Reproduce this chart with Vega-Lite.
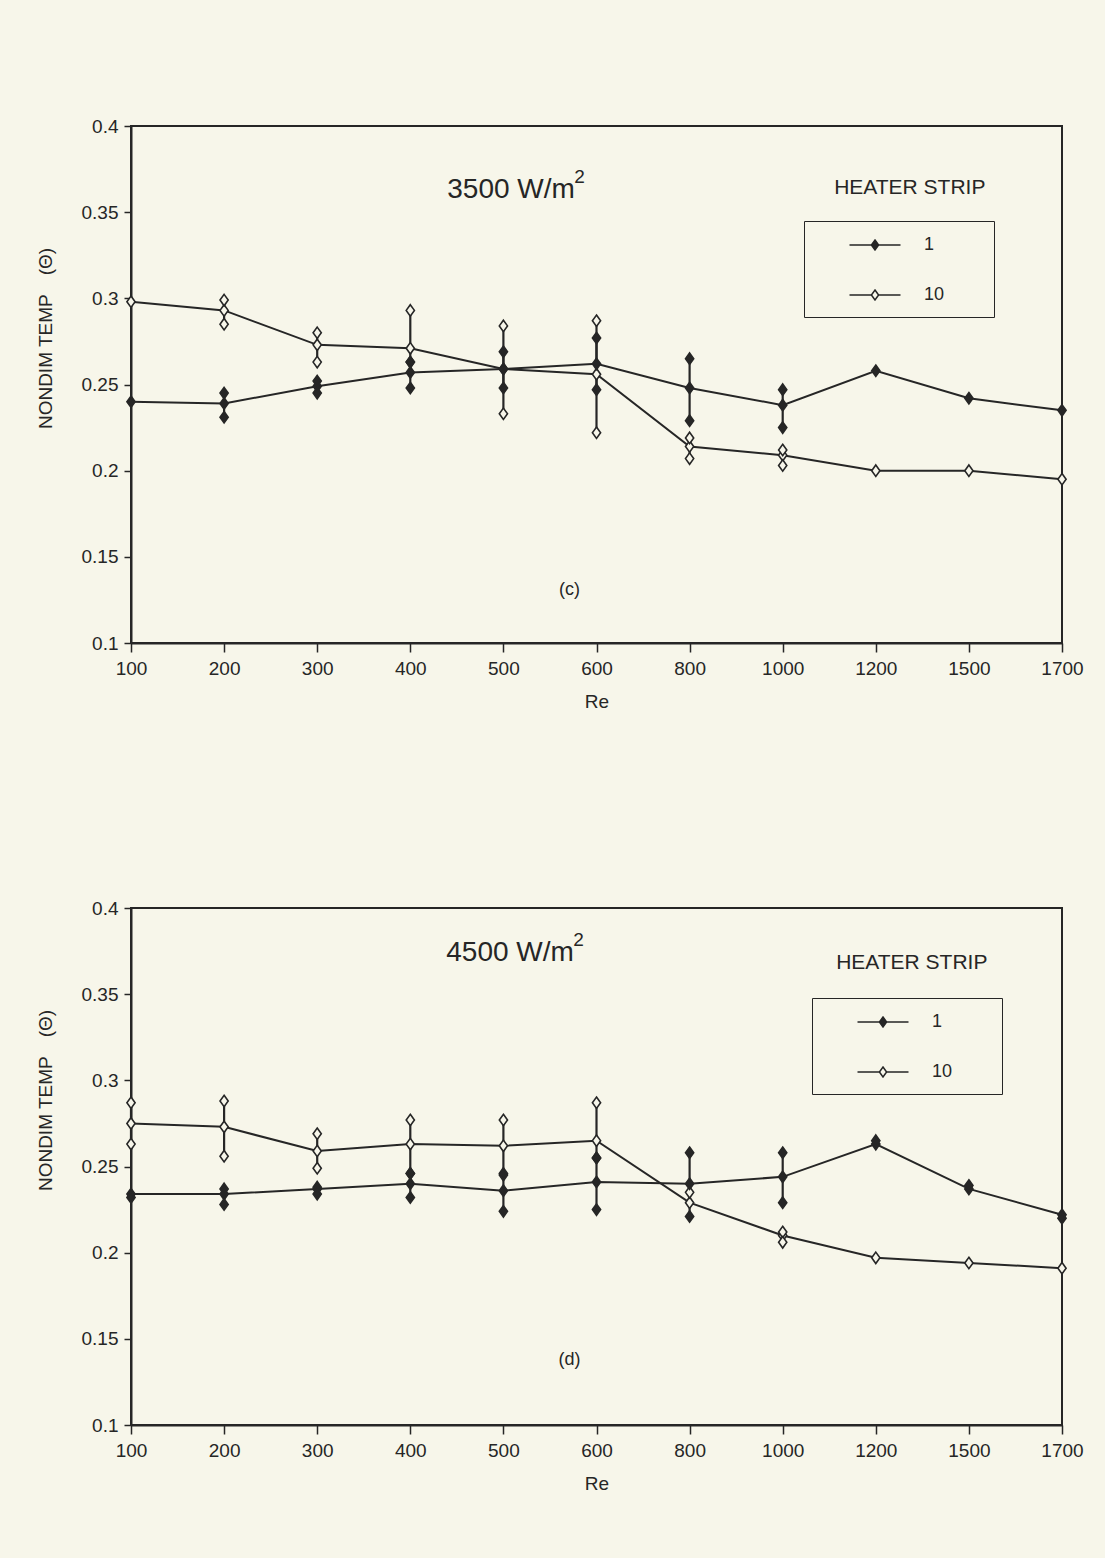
{
  "$schema": "https://vega.github.io/schema/vega-lite/v6.json",
  "background": "#f7f6ea",
  "padding": {"left": 35, "top": 116, "right": 20, "bottom": 64},
  "spacing": 186,
  "datasets": {
    "obs": [
      {"p":"c","Re":100,"strip":"10","kind":"mean","theta":0.298},
      {"p":"c","Re":200,"strip":"10","kind":"mean","theta":0.293},
      {"p":"c","Re":200,"strip":"10","kind":"run","theta":0.299},
      {"p":"c","Re":200,"strip":"10","kind":"run","theta":0.285},
      {"p":"c","Re":300,"strip":"10","kind":"mean","theta":0.273},
      {"p":"c","Re":300,"strip":"10","kind":"run","theta":0.280},
      {"p":"c","Re":300,"strip":"10","kind":"run","theta":0.263},
      {"p":"c","Re":400,"strip":"10","kind":"mean","theta":0.271},
      {"p":"c","Re":400,"strip":"10","kind":"run","theta":0.293},
      {"p":"c","Re":400,"strip":"10","kind":"run","theta":0.263},
      {"p":"c","Re":500,"strip":"10","kind":"mean","theta":0.259},
      {"p":"c","Re":500,"strip":"10","kind":"run","theta":0.284},
      {"p":"c","Re":500,"strip":"10","kind":"run","theta":0.233},
      {"p":"c","Re":600,"strip":"10","kind":"mean","theta":0.256},
      {"p":"c","Re":600,"strip":"10","kind":"run","theta":0.287},
      {"p":"c","Re":600,"strip":"10","kind":"run","theta":0.222},
      {"p":"c","Re":800,"strip":"10","kind":"mean","theta":0.214},
      {"p":"c","Re":800,"strip":"10","kind":"run","theta":0.219},
      {"p":"c","Re":800,"strip":"10","kind":"run","theta":0.207},
      {"p":"c","Re":1000,"strip":"10","kind":"mean","theta":0.209},
      {"p":"c","Re":1000,"strip":"10","kind":"run","theta":0.212},
      {"p":"c","Re":1000,"strip":"10","kind":"run","theta":0.203},
      {"p":"c","Re":1200,"strip":"10","kind":"mean","theta":0.200},
      {"p":"c","Re":1500,"strip":"10","kind":"mean","theta":0.200},
      {"p":"c","Re":1700,"strip":"10","kind":"mean","theta":0.195},
      {"p":"c","Re":100,"strip":"1","kind":"mean","theta":0.240},
      {"p":"c","Re":200,"strip":"1","kind":"mean","theta":0.239},
      {"p":"c","Re":200,"strip":"1","kind":"run","theta":0.245},
      {"p":"c","Re":200,"strip":"1","kind":"run","theta":0.231},
      {"p":"c","Re":300,"strip":"1","kind":"mean","theta":0.249},
      {"p":"c","Re":300,"strip":"1","kind":"run","theta":0.252},
      {"p":"c","Re":300,"strip":"1","kind":"run","theta":0.245},
      {"p":"c","Re":400,"strip":"1","kind":"mean","theta":0.257},
      {"p":"c","Re":400,"strip":"1","kind":"run","theta":0.263},
      {"p":"c","Re":400,"strip":"1","kind":"run","theta":0.248},
      {"p":"c","Re":500,"strip":"1","kind":"mean","theta":0.259},
      {"p":"c","Re":500,"strip":"1","kind":"run","theta":0.269},
      {"p":"c","Re":500,"strip":"1","kind":"run","theta":0.248},
      {"p":"c","Re":600,"strip":"1","kind":"mean","theta":0.262},
      {"p":"c","Re":600,"strip":"1","kind":"run","theta":0.277},
      {"p":"c","Re":600,"strip":"1","kind":"run","theta":0.247},
      {"p":"c","Re":800,"strip":"1","kind":"mean","theta":0.248},
      {"p":"c","Re":800,"strip":"1","kind":"run","theta":0.265},
      {"p":"c","Re":800,"strip":"1","kind":"run","theta":0.229},
      {"p":"c","Re":1000,"strip":"1","kind":"mean","theta":0.238},
      {"p":"c","Re":1000,"strip":"1","kind":"run","theta":0.247},
      {"p":"c","Re":1000,"strip":"1","kind":"run","theta":0.225},
      {"p":"c","Re":1200,"strip":"1","kind":"mean","theta":0.258},
      {"p":"c","Re":1500,"strip":"1","kind":"mean","theta":0.242},
      {"p":"c","Re":1700,"strip":"1","kind":"mean","theta":0.235},
      {"p":"d","Re":100,"strip":"10","kind":"mean","theta":0.275},
      {"p":"d","Re":100,"strip":"10","kind":"run","theta":0.287},
      {"p":"d","Re":100,"strip":"10","kind":"run","theta":0.263},
      {"p":"d","Re":200,"strip":"10","kind":"mean","theta":0.273},
      {"p":"d","Re":200,"strip":"10","kind":"run","theta":0.288},
      {"p":"d","Re":200,"strip":"10","kind":"run","theta":0.256},
      {"p":"d","Re":300,"strip":"10","kind":"mean","theta":0.259},
      {"p":"d","Re":300,"strip":"10","kind":"run","theta":0.269},
      {"p":"d","Re":300,"strip":"10","kind":"run","theta":0.249},
      {"p":"d","Re":400,"strip":"10","kind":"mean","theta":0.263},
      {"p":"d","Re":400,"strip":"10","kind":"run","theta":0.277},
      {"p":"d","Re":400,"strip":"10","kind":"run","theta":0.246},
      {"p":"d","Re":500,"strip":"10","kind":"mean","theta":0.262},
      {"p":"d","Re":500,"strip":"10","kind":"run","theta":0.277},
      {"p":"d","Re":500,"strip":"10","kind":"run","theta":0.245},
      {"p":"d","Re":600,"strip":"10","kind":"mean","theta":0.265},
      {"p":"d","Re":600,"strip":"10","kind":"run","theta":0.287},
      {"p":"d","Re":600,"strip":"10","kind":"run","theta":0.255},
      {"p":"d","Re":800,"strip":"10","kind":"mean","theta":0.229},
      {"p":"d","Re":800,"strip":"10","kind":"run","theta":0.235},
      {"p":"d","Re":1000,"strip":"10","kind":"mean","theta":0.210},
      {"p":"d","Re":1000,"strip":"10","kind":"run","theta":0.212},
      {"p":"d","Re":1000,"strip":"10","kind":"run","theta":0.206},
      {"p":"d","Re":1200,"strip":"10","kind":"mean","theta":0.197},
      {"p":"d","Re":1500,"strip":"10","kind":"mean","theta":0.194},
      {"p":"d","Re":1700,"strip":"10","kind":"mean","theta":0.191},
      {"p":"d","Re":100,"strip":"1","kind":"mean","theta":0.234},
      {"p":"d","Re":100,"strip":"1","kind":"run","theta":0.232},
      {"p":"d","Re":200,"strip":"1","kind":"mean","theta":0.234},
      {"p":"d","Re":200,"strip":"1","kind":"run","theta":0.237},
      {"p":"d","Re":200,"strip":"1","kind":"run","theta":0.228},
      {"p":"d","Re":300,"strip":"1","kind":"mean","theta":0.237},
      {"p":"d","Re":300,"strip":"1","kind":"run","theta":0.238},
      {"p":"d","Re":300,"strip":"1","kind":"run","theta":0.234},
      {"p":"d","Re":400,"strip":"1","kind":"mean","theta":0.240},
      {"p":"d","Re":400,"strip":"1","kind":"run","theta":0.246},
      {"p":"d","Re":400,"strip":"1","kind":"run","theta":0.232},
      {"p":"d","Re":500,"strip":"1","kind":"mean","theta":0.236},
      {"p":"d","Re":500,"strip":"1","kind":"run","theta":0.246},
      {"p":"d","Re":500,"strip":"1","kind":"run","theta":0.224},
      {"p":"d","Re":600,"strip":"1","kind":"mean","theta":0.241},
      {"p":"d","Re":600,"strip":"1","kind":"run","theta":0.255},
      {"p":"d","Re":600,"strip":"1","kind":"run","theta":0.225},
      {"p":"d","Re":800,"strip":"1","kind":"mean","theta":0.240},
      {"p":"d","Re":800,"strip":"1","kind":"run","theta":0.258},
      {"p":"d","Re":800,"strip":"1","kind":"run","theta":0.221},
      {"p":"d","Re":1000,"strip":"1","kind":"mean","theta":0.244},
      {"p":"d","Re":1000,"strip":"1","kind":"run","theta":0.258},
      {"p":"d","Re":1000,"strip":"1","kind":"run","theta":0.229},
      {"p":"d","Re":1200,"strip":"1","kind":"mean","theta":0.263},
      {"p":"d","Re":1200,"strip":"1","kind":"run","theta":0.265},
      {"p":"d","Re":1500,"strip":"1","kind":"mean","theta":0.237},
      {"p":"d","Re":1500,"strip":"1","kind":"run","theta":0.239},
      {"p":"d","Re":1700,"strip":"1","kind":"mean","theta":0.222},
      {"p":"d","Re":1700,"strip":"1","kind":"run","theta":0.220}
    ]
  },
  "vconcat": [
    {
      "width": 931,
      "height": 517,
      "layer": [
        {
          "data": {"name": "obs"},
          "transform": [{"filter": "datum.p == 'c'"}],
          "mark": {"type": "rule", "color": "#262626", "strokeWidth": 2.2},
          "encoding": {
            "x": {"field": "Re", "type": "ordinal", "scale": {"type": "point", "padding": 0},
                  "axis": {"title": "Re", "labelAngle": 0, "tickSize": 9, "labelPadding": 7, "titleY": 58, "titleBaseline": "middle"}},
            "y": {"aggregate": "min", "field": "theta", "type": "quantitative",
                  "scale": {"domain": [0.1, 0.4], "nice": false, "zero": false},
                  "axis": {"title": "NONDIM TEMP\u2003(Θ)", "values": [0.1, 0.15, 0.2, 0.25, 0.3, 0.35, 0.4], "labelExpr": "'' + datum.value", "tickSize": 7, "labelPadding": 6, "titleX": -86, "titleY": 212, "titleAngle": 270, "titleBaseline": "middle", "titleAlign": "center"}},
            "y2": {"aggregate": "max", "field": "theta"},
            "detail": {"field": "strip", "type": "nominal"}
          }
        },
        {
          "data": {"name": "obs"},
          "transform": [{"filter": "datum.p == 'c' && datum.kind == 'mean'"}],
          "mark": {"type": "line", "color": "#262626", "strokeWidth": 2},
          "encoding": {
            "x": {"field": "Re", "type": "ordinal"},
            "y": {"field": "theta", "type": "quantitative"},
            "detail": {"field": "strip", "type": "nominal"}
          }
        },
        {
          "data": {"name": "obs"},
          "transform": [{"filter": "datum.p == 'c'"}],
          "mark": {"type": "point", "filled": true, "shape": "M0,-1L0.72,0L0,1L-0.72,0Z", "size": 130, "stroke": "#262626", "strokeWidth": 1.6, "opacity": 1},
          "encoding": {
            "x": {"field": "Re", "type": "ordinal"},
            "y": {"field": "theta", "type": "quantitative"},
            "fill": {"field": "strip", "type": "nominal",
                     "scale": {"domain": ["1", "10"], "range": ["#262626", "#f7f6ea"]},
                     "legend": {"orient": "none", "legendX": 673, "legendY": 95, "title": null, "strokeColor": "#262626", "padding": 13,
                                "symbolType": "M-2.55,0H-0.4M0.4,0H2.55M0,-0.5L0.36,0L0,0.5L-0.36,0Z", "symbolSize": 400,
                                "symbolStrokeColor": "#262626", "symbolStrokeWidth": 1.5, "symbolOffset": 47, "labelOffset": 38, "rowPadding": 30,
                                "labelFontSize": 18, "labelFont": "Liberation Sans", "labelColor": "#262626",
                                "labelExpr": "datum.label + '\u2003\u2003\u200b'"}}
          }
        },
        {
          "data": {"values": [{"t": "3500 W/m"}]},
          "mark": {"type": "text", "align": "left", "baseline": "middle", "fontSize": 28, "font": "Liberation Sans", "color": "#262626", "dx": 37},
          "encoding": {"x": {"datum": 400, "type": "ordinal"}, "y": {"datum": 0.363, "type": "quantitative"}, "text": {"field": "t"}}
        },
        {
          "data": {"values": [{"t": "2"}]},
          "mark": {"type": "text", "align": "left", "baseline": "middle", "fontSize": 19, "font": "Liberation Sans", "color": "#262626", "dx": 164, "dy": -13},
          "encoding": {"x": {"datum": 400, "type": "ordinal"}, "y": {"datum": 0.363, "type": "quantitative"}, "text": {"field": "t"}}
        },
        {
          "data": {"values": [{"t": "HEATER STRIP"}]},
          "mark": {"type": "text", "align": "center", "baseline": "middle", "fontSize": 21, "font": "Liberation Sans", "color": "#262626", "dx": 34},
          "encoding": {"x": {"datum": 1200, "type": "ordinal"}, "y": {"datum": 0.364, "type": "quantitative"}, "text": {"field": "t"}}
        },
        {
          "data": {"values": [{"t": "(c)"}]},
          "mark": {"type": "text", "align": "center", "baseline": "middle", "fontSize": 18, "font": "Liberation Sans", "color": "#262626", "dx": 66},
          "encoding": {"x": {"datum": 500, "type": "ordinal"}, "y": {"datum": 0.131, "type": "quantitative"}, "text": {"field": "t"}}
        }
      ]
    },
    {
      "width": 931,
      "height": 517,
      "layer": [
        {
          "data": {"name": "obs"},
          "transform": [{"filter": "datum.p == 'd'"}],
          "mark": {"type": "rule", "color": "#262626", "strokeWidth": 2.2},
          "encoding": {
            "x": {"field": "Re", "type": "ordinal", "scale": {"type": "point", "padding": 0},
                  "axis": {"title": "Re", "labelAngle": 0, "tickSize": 9, "labelPadding": 7, "titleY": 58, "titleBaseline": "middle"}},
            "y": {"aggregate": "min", "field": "theta", "type": "quantitative",
                  "scale": {"domain": [0.1, 0.4], "nice": false, "zero": false},
                  "axis": {"title": "NONDIM TEMP\u2003(Θ)", "values": [0.1, 0.15, 0.2, 0.25, 0.3, 0.35, 0.4], "labelExpr": "'' + datum.value", "tickSize": 7, "labelPadding": 6, "titleX": -86, "titleY": 192, "titleAngle": 270, "titleBaseline": "middle", "titleAlign": "center"}},
            "y2": {"aggregate": "max", "field": "theta"},
            "detail": {"field": "strip", "type": "nominal"}
          }
        },
        {
          "data": {"name": "obs"},
          "transform": [{"filter": "datum.p == 'd' && datum.kind == 'mean'"}],
          "mark": {"type": "line", "color": "#262626", "strokeWidth": 2},
          "encoding": {
            "x": {"field": "Re", "type": "ordinal"},
            "y": {"field": "theta", "type": "quantitative"},
            "detail": {"field": "strip", "type": "nominal"}
          }
        },
        {
          "data": {"name": "obs"},
          "transform": [{"filter": "datum.p == 'd'"}],
          "mark": {"type": "point", "filled": true, "shape": "M0,-1L0.72,0L0,1L-0.72,0Z", "size": 130, "stroke": "#262626", "strokeWidth": 1.6, "opacity": 1},
          "encoding": {
            "x": {"field": "Re", "type": "ordinal"},
            "y": {"field": "theta", "type": "quantitative"},
            "fill": {"field": "strip", "type": "nominal",
                     "scale": {"domain": ["1", "10"], "range": ["#262626", "#f7f6ea"]},
                     "legend": {"orient": "none", "legendX": 681, "legendY": 90, "title": null, "strokeColor": "#262626", "padding": 13,
                                "symbolType": "M-2.55,0H-0.4M0.4,0H2.55M0,-0.5L0.36,0L0,0.5L-0.36,0Z", "symbolSize": 400,
                                "symbolStrokeColor": "#262626", "symbolStrokeWidth": 1.5, "symbolOffset": 47, "labelOffset": 38, "rowPadding": 30,
                                "labelFontSize": 18, "labelFont": "Liberation Sans", "labelColor": "#262626",
                                "labelExpr": "datum.label + '\u2003\u2003\u200b'"}}
          }
        },
        {
          "data": {"values": [{"t": "4500 W/m"}]},
          "mark": {"type": "text", "align": "left", "baseline": "middle", "fontSize": 28, "font": "Liberation Sans", "color": "#262626", "dx": 36},
          "encoding": {"x": {"datum": 400, "type": "ordinal"}, "y": {"datum": 0.374, "type": "quantitative"}, "text": {"field": "t"}}
        },
        {
          "data": {"values": [{"t": "2"}]},
          "mark": {"type": "text", "align": "left", "baseline": "middle", "fontSize": 19, "font": "Liberation Sans", "color": "#262626", "dx": 163, "dy": -13},
          "encoding": {"x": {"datum": 400, "type": "ordinal"}, "y": {"datum": 0.374, "type": "quantitative"}, "text": {"field": "t"}}
        },
        {
          "data": {"values": [{"t": "HEATER STRIP"}]},
          "mark": {"type": "text", "align": "center", "baseline": "middle", "fontSize": 21, "font": "Liberation Sans", "color": "#262626", "dx": 36},
          "encoding": {"x": {"datum": 1200, "type": "ordinal"}, "y": {"datum": 0.368, "type": "quantitative"}, "text": {"field": "t"}}
        },
        {
          "data": {"values": [{"t": "(d)"}]},
          "mark": {"type": "text", "align": "center", "baseline": "middle", "fontSize": 18, "font": "Liberation Sans", "color": "#262626", "dx": 66},
          "encoding": {"x": {"datum": 500, "type": "ordinal"}, "y": {"datum": 0.138, "type": "quantitative"}, "text": {"field": "t"}}
        }
      ]
    }
  ],
  "resolve": {"legend": {"fill": "independent"}},
  "config": {
    "view": {"stroke": "#262626", "strokeWidth": 2},
    "axis": {"grid": false, "domainColor": "#262626", "domainWidth": 2, "tickColor": "#262626", "tickWidth": 1.5,
             "labelColor": "#262626", "labelFont": "Liberation Sans", "labelFontSize": 19,
             "titleColor": "#262626", "titleFont": "Liberation Sans", "titleFontSize": 19, "titleFontWeight": "normal"}
  }
}
